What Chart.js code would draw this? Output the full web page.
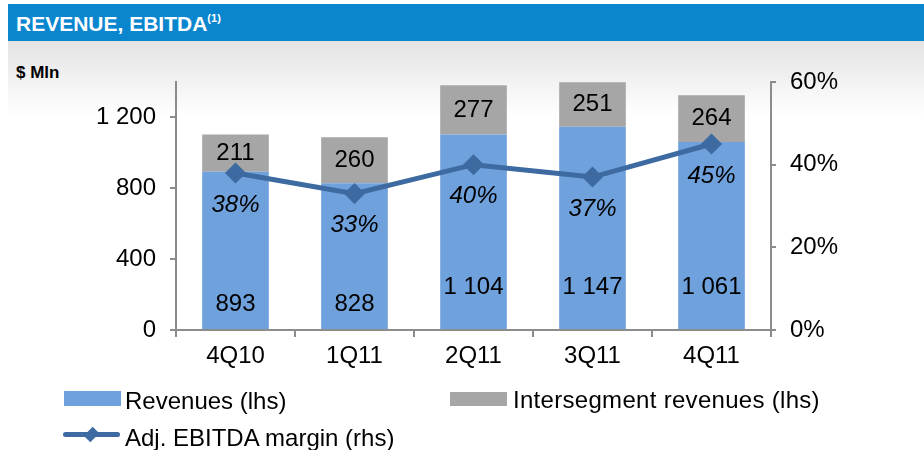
<!DOCTYPE html>
<html>
<head>
<meta charset="utf-8">
<script src="https://cdn.jsdelivr.net/npm/chart.js@4"></script>
<style>
  body { margin:0; width:924px; height:450px; overflow:hidden; background:#fff; font-family:"Liberation Sans", Arial, sans-serif; }
  #hdr { position:absolute; left:8px; top:4px; width:916px; height:37px; background:#0a86cf; }
  #hdr span { position:absolute; left:8px; top:8px; color:#fff; font-weight:bold; font-size:21px; }
  #hdr sup { font-size:11px; vertical-align:9px; }
  #bg { position:absolute; left:8px; top:41px; width:916px; height:409px; background:linear-gradient(#e3e3e3, #fff 75px); }
  #unit { position:absolute; left:16px; top:63px; font-weight:bold; font-size:17px; color:#000; }
  canvas { position:absolute; left:0; top:0; }
  .lg { position:absolute; font-size:24px; line-height:24px; color:#000; white-space:nowrap; }
  .sw { position:absolute; }
</style>
</head>
<body>
<div id="bg"></div>
<div id="hdr"><span>REVENUE, EBITDA<sup>(1)</sup></span></div>
<div id="unit">$ Mln</div>
<canvas id="chart" width="924" height="450"></canvas>

<div class="sw" style="left:64px;top:391px;width:57px;height:15px;background:#6fa1dc"></div>
<div class="lg" style="left:125px;top:389px">Revenues (lhs)</div>
<div class="sw" style="left:450px;top:392px;width:57px;height:14px;background:#a6a6a6"></div>
<div class="lg" style="left:513px;top:388px;letter-spacing:0.3px">Intersegment revenues (lhs)</div>
<div class="sw" style="left:63px;top:432px;width:57px;height:5px;background:#3d6aa1;border-radius:3px"></div>
<div class="sw" style="left:86px;top:429px;width:11px;height:11px;background:#3d6aa1;transform:rotate(45deg) scale(0.85,1.15)"></div>
<div class="lg" style="left:125px;top:426px">Adj. EBITDA margin (rhs)</div>

<script>
const quarters = ['4Q10', '1Q11', '2Q11', '3Q11', '4Q11'];
const revenues = [893, 828, 1104, 1147, 1061];
const intersegment = [211, 260, 277, 251, 264];
const ebitdaMargin = [38, 33, 40, 37, 45];
const leftTicks = [0, 400, 800, 1200];
const rightTicks = [0, 20, 40, 60];

const fmt = v => String(v).replace(/\B(?=(\d{3})+(?!\d))/g, ' ');

// labels drawn from element positions
const barLabels = {
  id: 'barLabels',
  afterDatasetsDraw(chart) {
    const ctx = chart.ctx;
    ctx.save();
    ctx.fillStyle = '#000';
    ctx.textAlign = 'center';
    ctx.textBaseline = 'middle';
    chart.data.datasets.forEach((ds, i) => {
      const meta = chart.getDatasetMeta(i);
      meta.data.forEach((el, j) => {
        const v = ds.data[j];
        if (ds.type === 'line') {
          ctx.font = 'italic 24px "Liberation Sans", Arial';
          ctx.fillText(v + '%', el.x, el.y + 32);
        } else if (ds.label.startsWith('Revenues')) {
          ctx.font = '24px "Liberation Sans", Arial';
          ctx.fillText(fmt(v), el.x, el.base - (v >= 1000 ? 42 : 25));
        } else {
          ctx.font = '24px "Liberation Sans", Arial';
          ctx.fillText(fmt(v), el.x, (el.y + el.base) / 2);
        }
      });
    });
    ctx.restore();
  }
};

new Chart(document.getElementById('chart'), {
  data: {
    labels: quarters,
    datasets: [
      {type:'line', label:'Adj. EBITDA margin (rhs)', data:ebitdaMargin, yAxisID:'y1', order:0,
       borderColor:'#3d6aa1', backgroundColor:'#3d6aa1', borderWidth:5, tension:0,
       pointStyle:'rectRot', pointRadius:7, pointHoverRadius:7},
      {type:'bar', label:'Revenues (lhs)', data:revenues, yAxisID:'y', order:1, stack:'s',
       backgroundColor:'#6fa1dc', categoryPercentage:1, barPercentage:0.56},
      {type:'bar', label:'Intersegment revenues (lhs)', data:intersegment, yAxisID:'y', order:1, stack:'s',
       backgroundColor:'#a6a6a6', categoryPercentage:1, barPercentage:0.56}
    ]
  },
  options: {
    responsive:false,
    animation:false,
    layout:{padding:{top:82, bottom:80, left:0, right:0}},
    plugins:{legend:{display:false}, tooltip:{enabled:false}},
    scales:{
      x:{stacked:true, offset:true,
         grid:{offset:true, drawOnChartArea:false, tickLength:7, color:'#8c8c8c', lineWidth:2},
         border:{color:'#8c8c8c', width:2},
         ticks:{color:'#000', font:{size:24, family:'"Liberation Sans", Arial'}, padding:5},
         afterFit(s){ s.height = 40; }},
      y:{stacked:true, min:0, max:1400, position:'left',
         afterBuildTicks(s){ s.ticks = leftTicks.map(v => ({value:v})); },
         ticks:{color:'#000', font:{size:24, family:'"Liberation Sans", Arial'}, padding:14, callback:v => fmt(v)},
         grid:{drawOnChartArea:false, tickLength:6, color:'#8c8c8c', lineWidth:2},
         border:{color:'#8c8c8c', width:2},
         afterFit(s){ s.width = 176; }},
      y1:{min:0, max:60, position:'right',
         afterBuildTicks(s){ s.ticks = rightTicks.map(v => ({value:v})); },
         ticks:{color:'#000', font:{size:24, family:'"Liberation Sans", Arial'}, padding:14, callback:v => v + '%'},
         grid:{drawOnChartArea:false, tickLength:5, color:'#8c8c8c', lineWidth:2},
         border:{color:'#8c8c8c', width:2},
         afterFit(s){ s.width = 153; }}
    }
  },
  plugins:[barLabels]
});
</script>
</body>
</html>
